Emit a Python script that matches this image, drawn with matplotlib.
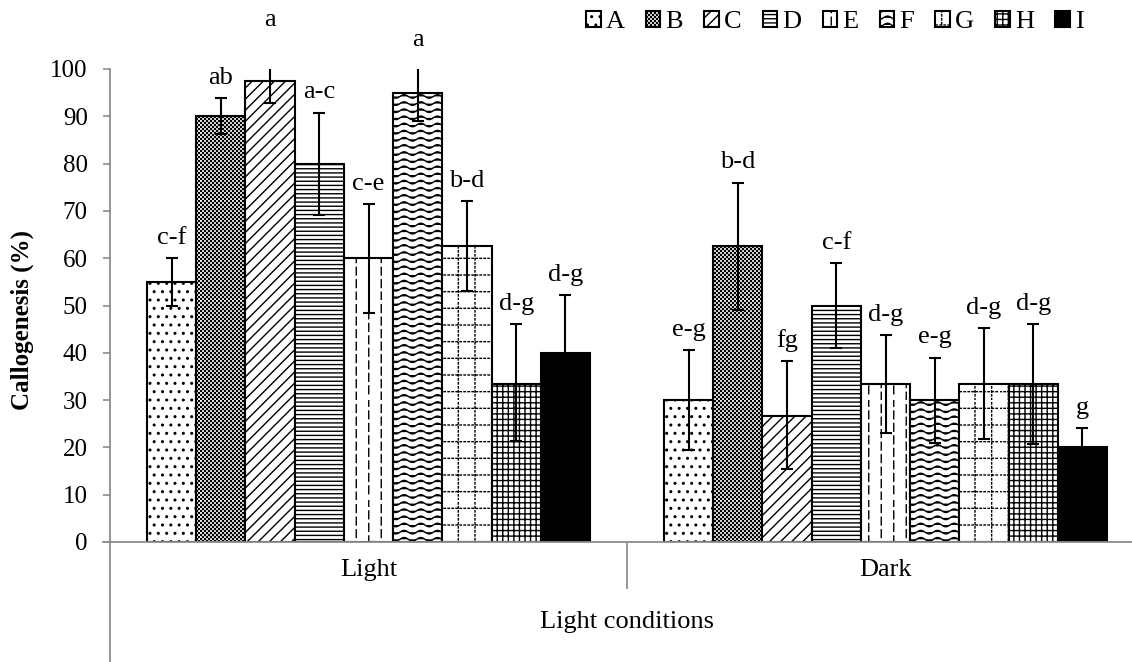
import numpy as np
import matplotlib
matplotlib.use("Agg")
import matplotlib.pyplot as plt
import matplotlib.hatch as mhatch
from matplotlib.path import Path

# ---------------- data ----------------
conditions = ["Light", "Dark"]
treatments = ["A", "B", "C", "D", "E", "F", "G", "H", "I"]
light_mean = [55, 90, 97.5, 80, 60, 95, 62.5, 33.3, 40]
light_err_low = [5, 3.8, 4.6, 10.8, 11.5, 6, 9.5, 12, 12.2]
light_err_high = [5, 3.8, 8.6, 10.8, 11.5, 6.8, 9.5, 12.7, 12.2]
dark_mean = [30, 62.5, 26.7, 50, 33.3, 30, 33.3, 33.3, 20]
dark_err_low = [10.5, 13.5, 11.2, 9, 10.3, 9, 11.6, 12.5, 4]
dark_err_high = [10.6, 13.5, 11.5, 9, 10.5, 9, 11.9, 12.7, 4.1]
light_labels = ["c-f", "ab", "a", "a-c", "c-e", "a", "b-d", "d-g", "d-g"]
dark_labels = ["e-g", "b-d", "fg", "c-f", "d-g", "e-g", "d-g", "d-g", "g"]
y_ticks = [0, 10, 20, 30, 40, 50, 60, 70, 80, 90, 100]

# ---------------- custom hatches ----------------
mhatch._validate_hatch_pattern = lambda h: None


class WaveHatch(mhatch.HatchPatternBase):
    def __init__(self, hatch, density):
        n = hatch.count('~')
        self.rows = 14 * n
        self.waves = 6
        self.pts = self.waves * 10 + 1
        self.num_vertices = self.rows * self.pts if n else 0

    def set_vertices_and_codes(self, vertices, codes):
        t = np.linspace(0, 1, self.pts)
        amp = 0.018
        for i in range(self.rows):
            y0 = (i + 0.5) / self.rows
            s = slice(i * self.pts, (i + 1) * self.pts)
            vertices[s, 0] = t
            vertices[s, 1] = y0 + amp * np.sin(2 * np.pi * self.waves * t)
            codes[s] = Path.LINETO
            codes[i * self.pts] = Path.MOVETO


class DashVertHatch(mhatch.HatchPatternBase):
    def __init__(self, hatch, density):
        n = hatch.count(':')
        self.lines = 8 * n
        self.dashes = 8
        self.num_vertices = self.lines * self.dashes * 2 if n else 0

    def set_vertices_and_codes(self, vertices, codes):
        period = 1.0 / self.dashes
        dl = 0.62 * period
        k = 0
        for i in range(self.lines):
            x = (i + 0.5) / self.lines
            phase = 0.5 * period if i % 2 else 0.0
            for j in range(self.dashes):
                y0 = j * period + phase
                vertices[k] = (x, y0)
                vertices[k + 1] = (x, min(y0 + dl, 1.0))
                codes[k] = Path.MOVETO
                codes[k + 1] = Path.LINETO
                k += 2


class DotGridHatch(mhatch.HatchPatternBase):
    def __init__(self, hatch, density):
        n = hatch.count('_')
        self.lines = 6 * n
        self.dots = 25
        self.num_vertices = 2 * self.lines * self.dots * 2 if n else 0

    def set_vertices_and_codes(self, vertices, codes):
        period = 1.0 / self.dots
        dl = 0.35 * period
        k = 0
        for i in range(self.lines):
            c = (i + 0.5) / self.lines
            for j in range(self.dots):
                a = j * period
                vertices[k] = (c, a)
                vertices[k + 1] = (c, a + dl)
                vertices[k + 2] = (a, c)
                vertices[k + 3] = (a + dl, c)
                codes[k] = Path.MOVETO
                codes[k + 1] = Path.LINETO
                codes[k + 2] = Path.MOVETO
                codes[k + 3] = Path.LINETO
                k += 4


class CheckerHatch(mhatch.HatchPatternBase):
    def __init__(self, hatch, density):
        n = hatch.count('#')
        self.cells = 50 * n
        self.nsq = (self.cells * self.cells) // 2
        self.num_vertices = self.nsq * 5 if n else 0

    def set_vertices_and_codes(self, vertices, codes):
        c = 1.0 / self.cells
        s = 0.2 * c
        k = 0
        for i in range(self.cells):
            for j in range(self.cells):
                if (i + j) % 2:
                    continue
                x0 = (i + 0.5) * c
                y0 = (j + 0.5) * c
                vertices[k:k + 5] = [(x0 - s, y0 - s), (x0 + s, y0 - s),
                                     (x0 + s, y0 + s), (x0 - s, y0 + s),
                                     (x0 - s, y0 - s)]
                codes[k] = Path.MOVETO
                codes[k + 1:k + 4] = Path.LINETO
                codes[k + 4] = Path.CLOSEPOLY
                k += 5


mhatch._hatch_types.extend([WaveHatch, DashVertHatch, DotGridHatch, CheckerHatch])

hatches = ["..", "#", "///", "----", ":", "~", "_", "+++", ""]
faces = ["white"] * 8 + ["black"]

# ---------------- figure ----------------
plt.rcParams["font.family"] = ["Liberation Serif", "DejaVu Serif"]
plt.rcParams["hatch.color"] = "black"
plt.rcParams["hatch.linewidth"] = 1.0

W, H = 1132, 662
fig = plt.figure(figsize=(W / 100, H / 100), dpi=100)
ax_left, ax_right, ax_top, ax_bot = 110, 1144, 69, 542
ax = fig.add_axes([ax_left / W, 1 - ax_bot / H, (ax_right - ax_left) / W,
                   (ax_bot - ax_top) / H])

fs = 19
fs_tick = 18
gray = "#8c8c8c"
n = len(treatments)
bw = 0.0952
x_centers = np.arange(len(conditions))
means = [light_mean, dark_mean]
elow = [light_err_low, dark_err_low]
ehigh = [light_err_high, dark_err_high]
labels = [light_labels, dark_labels]

handles = []
for k, t in enumerate(treatments):
    xs = x_centers + (k - (n - 1) / 2) * bw
    vals = [means[g][k] for g in range(len(conditions))]
    lo = [elow[g][k] for g in range(len(conditions))]
    hi = [ehigh[g][k] for g in range(len(conditions))]
    b = ax.bar(xs, vals, width=bw, color=faces[k], edgecolor="black",
               linewidth=1.5, hatch=hatches[k], label=t, zorder=2)
    handles.append(b)
    ax.errorbar(xs, vals, yerr=[lo, hi], fmt="none", ecolor="black",
                elinewidth=1.5, capsize=4.5, capthick=1.5, zorder=3)
    for g in range(len(conditions)):
        ax.text(xs[g], vals[g] + hi[g] + 3.0, labels[g][k], ha="center",
                va="baseline", fontsize=fs, clip_on=False)

ax.set_xlim(-0.5, 1.5)
ax.set_ylim(0, 100)
ax.set_yticks(y_ticks)
ax.set_yticklabels([str(v) for v in y_ticks], fontsize=fs_tick)
ax.set_xticks([])
ax.tick_params(axis="y", direction="out", length=5, width=1.2, color=gray,
               pad=11)
for sp in ["top", "right"]:
    ax.spines[sp].set_visible(False)
for sp in ["left", "bottom"]:
    ax.spines[sp].set_color(gray)
    ax.spines[sp].set_linewidth(1.3)

# category axis decorations
ah = ax_bot - ax_top
ax.plot([0, 0], [0, -(H - ax_bot) / ah], transform=ax.transAxes, color=gray,
        lw=1.3, clip_on=False, solid_capstyle="butt")
ax.plot([0.5, 0.5], [0, -(589 - ax_bot) / ah], transform=ax.transAxes,
        color=gray, lw=1.3, clip_on=False, solid_capstyle="butt")
ax.plot([-7 / (ax_right - ax_left), 0], [0, 0], transform=ax.transAxes,
        color=gray, lw=1.3, clip_on=False)
trans = ax.get_xaxis_transform()
for g, c in enumerate(conditions):
    ax.text(x_centers[g], -(570 - ax_bot) / ah, c, transform=trans,
            ha="center", va="center", fontsize=fs)
ax.text(0.5, -(622 - ax_bot) / ah, "Light conditions", transform=ax.transAxes,
        ha="center", va="center", fontsize=fs)

fig.text(22 / W, 1 - 320 / H, "Callogenesis (%)", rotation=90, ha="center",
         va="center", fontsize=fs_tick, fontweight="bold")

fig.legend(handles=handles, labels=treatments, loc="center",
           bbox_to_anchor=(835 / W, 1 - 22 / H), ncol=9, frameon=False,
           fontsize=fs, handlelength=0.55, handleheight=0.55,
           handletextpad=0.2, columnspacing=0.8, borderaxespad=0,
           borderpad=0)

fig.savefig("out.png", dpi=100)
